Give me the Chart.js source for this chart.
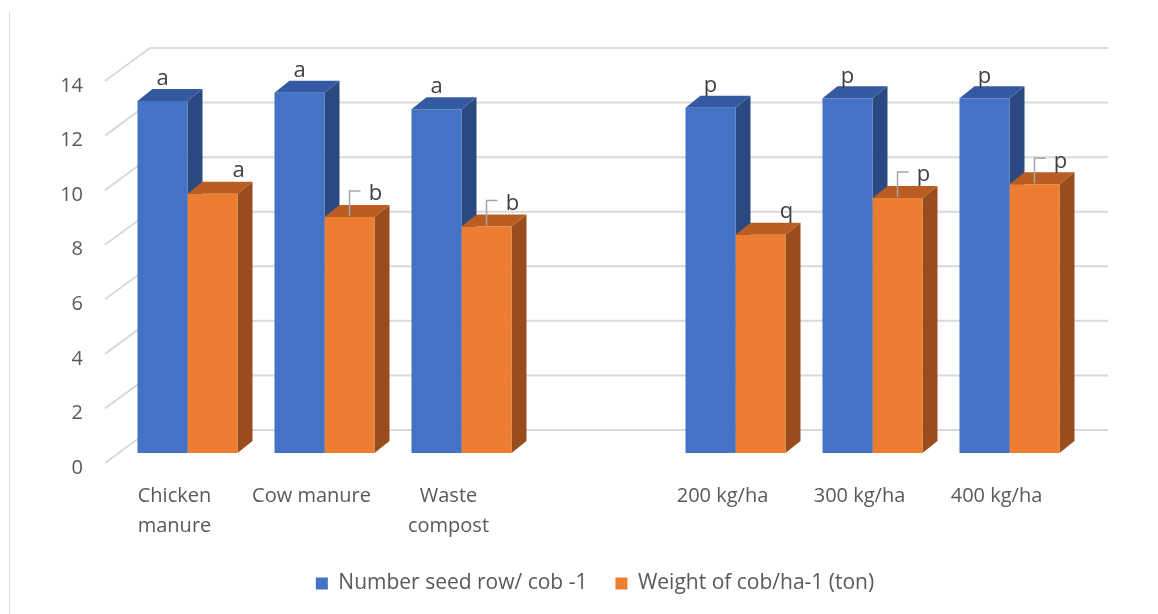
<!DOCTYPE html>
<html>
<head>
<meta charset="utf-8">
<script src="https://cdn.jsdelivr.net/npm/chart.js@4"></script>
<style>
  html, body { margin: 0; padding: 0; background: #fff; }
  #wrap { width: 1158px; height: 614px; }
</style>
</head>
<body>
<div id="wrap"><canvas id="chart" width="1158" height="614"></canvas></div>
<script>
const categories = [['Chicken', 'manure'], 'Cow manure', ['Waste', 'compost'], '', '200 kg/ha', '300 kg/ha', '400 kg/ha'];
const seedRows = [12.9, 13.2, 12.6, null, 12.65, 13.0, 13.0];
const cobWeight = [9.5, 8.65, 8.3, null, 8.0, 9.35, 9.85];
const seedLetters = ['a', 'a', 'a', null, 'p', 'p', 'p'];
const weightLetters = ['a', 'b', 'b', null, 'q', 'p', 'p'];
const yTicks = [0, 2, 4, 6, 8, 10, 12, 14];

const FONT = '"Open Sans", "Liberation Sans", sans-serif';
const TEXT = '#595959';
const GRID = '#d9d9d9';

// depth of the fake 3d box
const DX = 15, DY = -12;
// labels that sit on a leader line
const leader = [false, true, true, false, false, true, true];

const faces = [
  { top: '#3359a0', side: '#2a4980' },
  { top: '#b95d22', side: '#9a4d1c' }
];

const box3d = {
  id: 'box3d',
  afterLayout(chart) {
    // legend sits a little right of centre
    chart.legend.left += 56;
    chart.legend.right += 56;
  },
  beforeDraw(chart) {
    const ctx = chart.ctx;
    ctx.save();
    ctx.strokeStyle = GRID;
    ctx.lineWidth = 1;
    ctx.beginPath();
    ctx.moveTo(9.5, 12);
    ctx.lineTo(9.5, 614);
    ctx.stroke();
    ctx.restore();
  },
  beforeDatasetsDraw(chart) {
    const ctx = chart.ctx;
    const y = chart.scales.y;
    const area = chart.chartArea;
    const fx = area.left - 14, bx = area.left + 31, rx = area.right + 30;
    ctx.save();
    ctx.strokeStyle = GRID;
    ctx.lineWidth = 2;
    yTicks.forEach(v => {
      const py = y.getPixelForValue(v);
      ctx.beginPath();
      ctx.moveTo(fx, py + 10);
      ctx.lineTo(bx, py - 23);
      ctx.lineTo(rx, py - 23);
      ctx.stroke();
    });
    // top and side faces, behind the front faces
    chart.data.datasets.forEach((ds, di) => {
      chart.getDatasetMeta(di).data.forEach((bar, i) => {
        if (ds.data[i] == null) return;
        const l = bar.x - bar.width / 2, r = bar.x + bar.width / 2;
        const t = bar.y, b = bar.base;
        ctx.fillStyle = faces[di].side;
        ctx.beginPath();
        ctx.moveTo(r, t);
        ctx.lineTo(r + DX, t + DY);
        ctx.lineTo(r + DX, b + DY);
        ctx.lineTo(r, b);
        ctx.closePath();
        ctx.fill();
        ctx.fillStyle = faces[di].top;
        ctx.beginPath();
        ctx.moveTo(l, t);
        ctx.lineTo(l + DX, t + DY);
        ctx.lineTo(r + DX, t + DY);
        ctx.lineTo(r, t);
        ctx.closePath();
        ctx.fill();
      });
    });
    ctx.restore();
  },
  afterDatasetsDraw(chart) {
    const ctx = chart.ctx;
    ctx.save();
    ctx.font = '22px ' + FONT;
    ctx.fillStyle = '#404040';
    ctx.textAlign = 'center';
    ctx.textBaseline = 'middle';
    chart.getDatasetMeta(0).data.forEach((bar, i) => {
      if (!seedLetters[i]) return;
      ctx.fillText(seedLetters[i], bar.x, bar.y - 22);
    });
    chart.getDatasetMeta(1).data.forEach((bar, i) => {
      if (!weightLetters[i]) return;
      if (leader[i]) {
        ctx.strokeStyle = '#a6a6a6';
        ctx.lineWidth = 1.5;
        ctx.beginPath();
        ctx.moveTo(bar.x, bar.y - 1);
        ctx.lineTo(bar.x, bar.y - 26);
        ctx.lineTo(bar.x + 11, bar.y - 26);
        ctx.stroke();
      }
      ctx.fillText(weightLetters[i], bar.x + 26, bar.y - 23);
    });
    ctx.restore();
  }
};

new Chart(document.getElementById('chart'), {
  type: 'bar',
  data: {
    labels: categories,
    datasets: [{
      label: 'Number seed row/ cob -1',
      data: seedRows,
      backgroundColor: '#4472c4'
    }, {
      label: 'Weight of cob/ha-1 (ton)',
      data: cobWeight,
      backgroundColor: '#ed7d31'
    }]
  },
  options: {
    responsive: false,
    animation: false,
    layout: { padding: { top: 71, right: 80, bottom: 10, left: 0 } },
    datasets: {
      bar: { categoryPercentage: 0.73, barPercentage: 1.0 }
    },
    scales: {
      x: {
        grid: { display: false, drawTicks: false },
        border: { display: false },
        afterFit(scale) { scale.height = 92; },
        ticks: {
          color: TEXT,
          font: { family: FONT, size: 20, lineHeight: 1.5 },
          padding: 28,
          labelOffset: -13,
          maxRotation: 0,
          autoSkip: false
        }
      },
      y: {
        min: 0,
        max: 14,
        grid: { display: false, drawTicks: false },
        border: { display: false },
        afterFit(scale) { scale.width = 119; },
        afterBuildTicks(scale) { scale.ticks = yTicks.map(v => ({ value: v })); },
        ticks: {
          color: TEXT,
          font: { family: FONT, size: 20 },
          padding: 36,
          labelOffset: 15
        }
      }
    },
    plugins: {
      legend: {
        position: 'bottom',
        labels: {
          color: TEXT,
          font: { family: FONT, size: 21 },
          boxWidth: 12,
          boxHeight: 12,
          padding: 28
        }
      },
      tooltip: { enabled: false }
    }
  },
  plugins: [box3d]
});
</script>
</body>
</html>
